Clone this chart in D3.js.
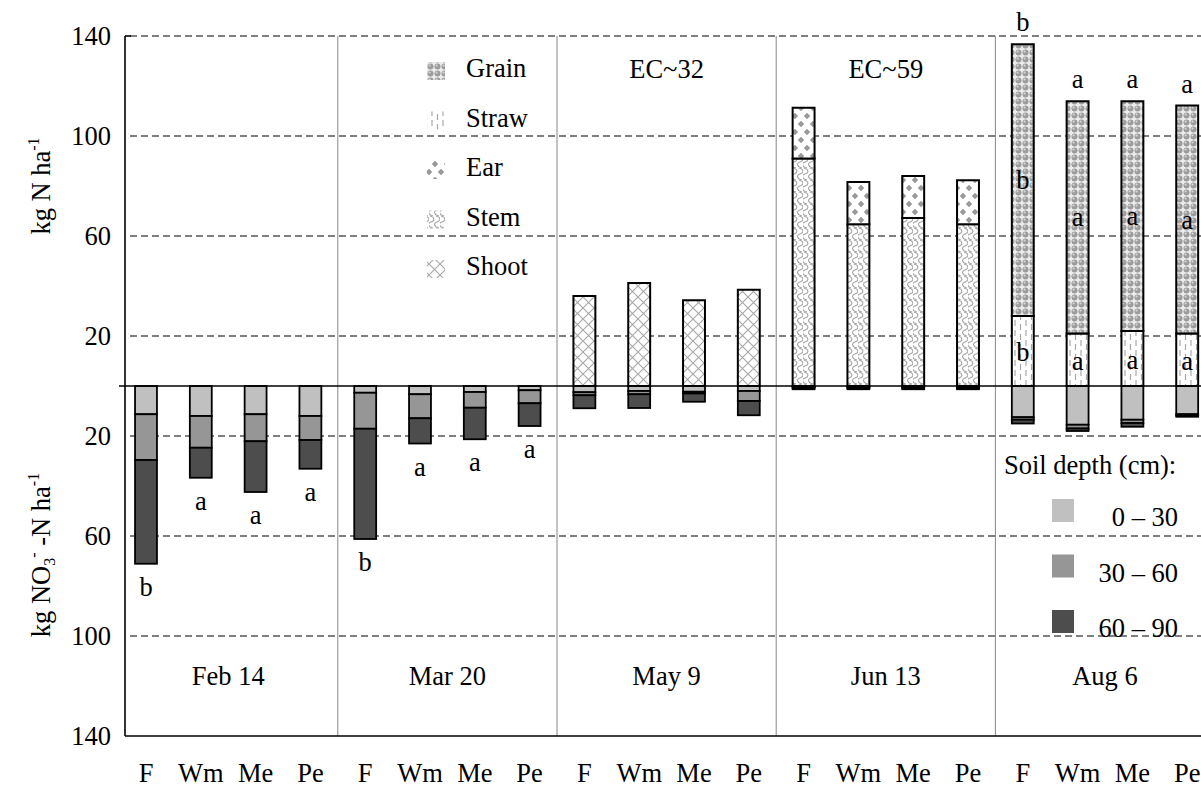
<!DOCTYPE html>
<html><head><meta charset="utf-8">
<script src="https://cdn.jsdelivr.net/npm/d3@7"></script>
<style>
body{margin:0;background:#fff}
svg{display:block}
svg, svg text{font-family:"Liberation Serif","Times New Roman",Times,"DejaVu Serif","Noto Serif",serif !important;fill:#000}
</style>
</head><body>
<svg id="chart" width="1201" height="789" font-family="Liberation Serif, Times New Roman, serif"></svg>
<script>
// ---------------- DATA ----------------
const dates = ["Feb 14","Mar 20","May 9","Jun 13","Aug 6"];
const treatments = ["F","Wm","Me","Pe"];
const yTickValues = [140,100,60,20,-20,-60,-100,-140];
const gridValues = [140,100,60,20,-20,-60,-100];

// soil nitrate (kg NO3-N/ha), 20 entries: dates x treatments
const soil0_30  = [11.3,12.0,11.3,12.0,  2.7,3.3,2.4,1.7,   2.5,2.0,2.3,2.0,  0.5,0.5,0.5,0.5,  12.5,15.5,13.5,11.3];
const soil30_60 = [18.3,12.7,10.8,9.6,  14.4,9.6,6.3,5.2,   1.2,1.3,0.7,4.0,  0.3,0.3,0.3,0.3,   1.0,1.5,1.3,0.5];
const soil60_90 = [41.5,12.0,20.3,11.5, 44.1,10.1,12.6,9.1, 5.2,5.5,3.3,5.7,  0.5,0.5,0.5,0.5,   1.5,1.0,1.5,0.5];

// plant N (kg N/ha)
const shoot = [0,0,0,0, 0,0,0,0, 36.0,41.2,34.3,38.5, 0,0,0,0, 0,0,0,0];
const stem  = [0,0,0,0, 0,0,0,0, 0,0,0,0, 91.0,64.7,67.2,64.7, 0,0,0,0];
const ear   = [0,0,0,0, 0,0,0,0, 0,0,0,0, 20.3,16.9,16.8,17.6, 0,0,0,0];
const straw = [0,0,0,0, 0,0,0,0, 0,0,0,0, 0,0,0,0, 28.0,21.0,22.0,21.0];
const grain = [0,0,0,0, 0,0,0,0, 0,0,0,0, 0,0,0,0, 108.7,92.9,91.9,91.2];

// significance letters
const soilLetters  = ["b","a","a","a", "b","a","a","a", "","","","", "","","","", "","","",""];
const totalLetters = ["","","","", "","","","", "","","","", "","","","", "b","a","a","a"];
const grainLetters = ["","","","", "","","","", "","","","", "","","","", "b","a","a","a"];
const strawLetters = ["","","","", "","","","", "","","","", "","","","", "b","a","a","a"];

const stageLabels = [{date:"May 9", text:"EC~32"}, {date:"Jun 13", text:"EC~59"}];

const plantKeys = ["shoot","stem","ear","straw","grain"];
const plantLegend = [
  {key:"grain", label:"Grain"},
  {key:"straw", label:"Straw"},
  {key:"ear",   label:"Ear"},
  {key:"stem",  label:"Stem"},
  {key:"shoot", label:"Shoot"}
];
const soilKeys = ["s0_30","s30_60","s60_90"];
const soilLegend = [
  {key:"s0_30", label:"0 \u2013 30"},
  {key:"s30_60", label:"30 \u2013 60"},
  {key:"s60_90", label:"60 \u2013 90"}
];
const soilColors = {s0_30:"#c0c0c0", s30_60:"#969696", s60_90:"#4d4d4d"};

// ---------------- TABLE ----------------
const table = [];
dates.forEach((d,di)=>treatments.forEach((t,ti)=>{
  const i = di*4+ti;
  table.push({i, date:d, treat:t,
    shoot:shoot[i], stem:stem[i], ear:ear[i], straw:straw[i], grain:grain[i],
    s0_30:-soil0_30[i], s30_60:-soil30_60[i], s60_90:-soil60_90[i]});
}));

// ---------------- SCALES ----------------
const svg = d3.select("#chart");
const FF = '"Liberation Serif","Times New Roman",Times,"DejaVu Serif",serif';
const FS = 26.5;
const axisX = 125;
const x = d3.scalePoint().domain(d3.range(table.length)).range([118.6, 1214.6]).padding(0.5);
const step = x.step();
const bw = step*0.4;
const y = d3.scaleLinear().domain([-140,140]).range([736,36]);

// ---------------- PATTERNS ----------------
const defs = svg.append("defs");
function pat(id,w,h){
  const p = defs.append("pattern").attr("id",id).attr("patternUnits","userSpaceOnUse")
    .attr("width",w).attr("height",h);
  p.append("rect").attr("width",w).attr("height",h).attr("fill","#fff");
  return p;
}
let p;
p = pat("shoot",11,11);
p.append("path").attr("d","M0,0L11,11M11,0L0,11").attr("stroke","#a8a8a8").attr("stroke-width",1.1).attr("fill","none");
p = pat("stem",11,12);
p.append("path").attr("d","M1,0 C6,1 6,5 2,6 C-2,7 -1,11 4,12 M7,0 C12,1 12,5 8,6 C4,7 5,11 10,12")
  .attr("stroke","#a8a8a8").attr("stroke-width",1.1).attr("fill","none");
p = pat("ear",12,16);
p.append("path").attr("d","M3,0.8L6.2,4L3,7.2L-0.2,4Z M9,8.8L12.2,12L9,15.2L5.8,12Z").attr("fill","#999");
p = pat("straw",11,10);
p.append("path").attr("d","M3,0V6 M8.5,4V10").attr("stroke","#a9a9a9").attr("stroke-width",1.2);
p = pat("grain",7,7);
p.select("rect").attr("fill","#ececec");
p.append("circle").attr("cx",3.5).attr("cy",3.5).attr("r",3).attr("fill","#9c9c9c");
p.append("circle").attr("cx",2.6).attr("cy",2.5).attr("r",1.1).attr("fill","#fff").attr("opacity",0.6);

// ---------------- GRID & FRAME ----------------
svg.append("g").selectAll("line").data(gridValues).join("line")
  .attr("x1",axisX+5).attr("x2",1201).attr("y1",d=>y(d)).attr("y2",d=>y(d))
  .attr("stroke","#555").attr("stroke-width",1.4).attr("stroke-dasharray","7,4");

const dividers = d3.range(1,dates.length).map(k=>x(k*4)-step/2);
svg.append("g").selectAll("line").data(dividers).join("line")
  .attr("x1",d=>d).attr("x2",d=>d).attr("y1",y(140)).attr("y2",y(-140))
  .attr("stroke","#888").attr("stroke-width",1);

// ---------------- BARS ----------------
const plantStack = d3.stack().keys(plantKeys)(table);
const gPlant = svg.append("g");
plantStack.forEach(layer=>{
  gPlant.selectAll(null).data(layer.filter(s=>s[1]-s[0]>0)).join("rect")
    .attr("x",s=>x(s.data.i)-bw/2).attr("width",bw)
    .attr("y",s=>y(s[1])).attr("height",s=>y(s[0])-y(s[1]))
    .attr("fill",`url(#${layer.key})`).attr("stroke","#000").attr("stroke-width",2);
});

const soilStack = d3.stack().keys(soilKeys).offset(d3.stackOffsetDiverging)(table);
const gSoil = svg.append("g");
soilStack.forEach(layer=>{
  gSoil.selectAll(null).data(layer).join("rect")
    .attr("x",s=>x(s.data.i)-bw/2).attr("width",bw)
    .attr("y",s=>y(Math.max(s[0],s[1]))).attr("height",s=>Math.abs(y(s[0])-y(s[1])))
    .attr("fill",soilColors[layer.key]).attr("stroke","#000").attr("stroke-width",1.8);
});

// zero line, axis, bottom line
svg.append("line").attr("x1",axisX-6).attr("x2",1201).attr("y1",y(0)).attr("y2",y(0))
  .attr("stroke","#000").attr("stroke-width",1.6);
svg.append("line").attr("x1",axisX).attr("x2",axisX).attr("y1",y(140)).attr("y2",y(-140))
  .attr("stroke","#000").attr("stroke-width",1.6);
svg.append("line").attr("x1",axisX).attr("x2",axisX+6).attr("y1",y(140)).attr("y2",y(140))
  .attr("stroke","#000").attr("stroke-width",1.6);
svg.append("line").attr("x1",axisX).attr("x2",1201).attr("y1",y(-140)).attr("y2",y(-140))
  .attr("stroke","#000").attr("stroke-width",1.6);

const yAxis = svg.append("g").attr("transform",`translate(${axisX},0)`)
  .call(d3.axisLeft(y).tickValues(yTickValues).tickFormat(d=>Math.abs(d)).tickSize(0).tickPadding(14));
yAxis.attr("font-family",FF).attr("font-size",FS);
yAxis.select(".domain").remove();
yAxis.selectAll("text").attr("fill","#000");

// ---------------- TEXT ----------------
const gt = svg.append("g").attr("font-family",FF).attr("font-size",FS);
gt.append("g").selectAll("text").data(table).join("text")
  .attr("x",d=>x(d.i)).attr("y",782).attr("text-anchor","middle")
  .text(d=>d.treat);
gt.append("g").selectAll("text").data(dates).join("text")
  .attr("x",(d,k)=>(x(k*4)+x(k*4+3))/2).attr("y",685).attr("text-anchor","middle")
  .text(d=>d);
gt.append("g").selectAll("text").data(stageLabels).join("text")
  .attr("x",d=>{const k=dates.indexOf(d.date);return (x(k*4)+x(k*4+3))/2;}).attr("y",78)
  .attr("text-anchor","middle").text(d=>d.text);

const soilTot = table.map(d=>d.s0_30+d.s30_60+d.s60_90);
gt.append("g").selectAll("text").data(table.filter(d=>soilLetters[d.i])).join("text")
  .attr("x",d=>x(d.i)).attr("y",d=>y(soilTot[d.i])+32).attr("text-anchor","middle")
  .text(d=>soilLetters[d.i]);
gt.append("g").selectAll("text").data(table.filter(d=>totalLetters[d.i])).join("text")
  .attr("x",d=>x(d.i)).attr("y",d=>y(d.shoot+d.stem+d.ear+d.straw+d.grain)-13).attr("text-anchor","middle")
  .text(d=>totalLetters[d.i]);
gt.append("g").selectAll("text").data(table.filter(d=>grainLetters[d.i])).join("text")
  .attr("x",d=>x(d.i)).attr("y",d=>y(d.straw+d.grain/2)+9).attr("text-anchor","middle")
  .text(d=>grainLetters[d.i]);
gt.append("g").selectAll("text").data(table.filter(d=>strawLetters[d.i])).join("text")
  .attr("x",d=>x(d.i)).attr("y",d=>y(d.straw/2)+10).attr("text-anchor","middle")
  .text(d=>strawLetters[d.i]);

const t1 = gt.append("text").attr("transform","translate(50,186) rotate(-90)").attr("text-anchor","middle");
t1.append("tspan").text("kg N ha");
t1.append("tspan").attr("font-size",16).attr("dy",-11).text("-1");
const t2 = gt.append("text").attr("transform","translate(50,555) rotate(-90)").attr("text-anchor","middle");
t2.append("tspan").text("kg NO");
t2.append("tspan").attr("font-size",16).attr("dy",5).text("3");
t2.append("tspan").attr("font-size",16).attr("dy",-16).text("-");
t2.append("tspan").attr("dy",11).text(" -N ha");
t2.append("tspan").attr("font-size",16).attr("dy",-11).text("-1");

plantLegend.forEach((e,k)=>{
  const by = 77 + k*49.5;
  gt.append("rect").attr("x",427).attr("y",by-15).attr("width",18).attr("height",18).attr("fill",`url(#${e.key})`);
  gt.append("text").attr("x",466).attr("y",by).text(e.label);
});

gt.append("text").attr("x",1004).attr("y",474).text("Soil depth (cm):");
soilLegend.forEach((e,k)=>{
  const top = 499 + k*55.5;
  gt.append("rect").attr("x",1052).attr("y",top).attr("width",22).attr("height",23).attr("fill",soilColors[e.key]);
  gt.append("text").attr("x",1178).attr("y",top+27).attr("text-anchor","end").text(e.label);
});
</script>
</body></html>
